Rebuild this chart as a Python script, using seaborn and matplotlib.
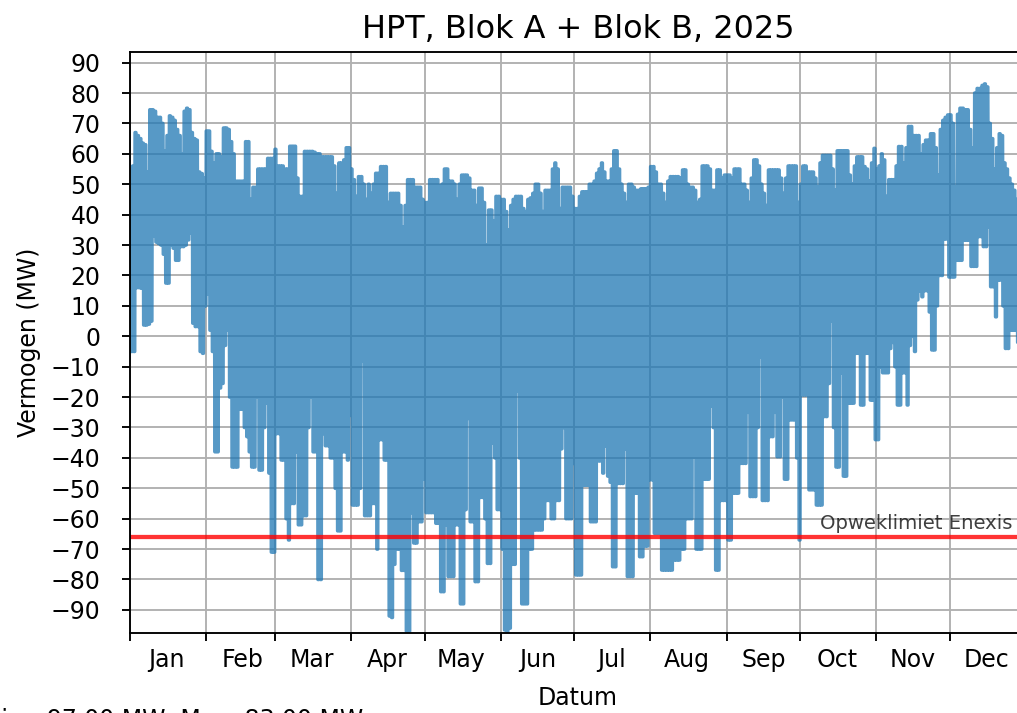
import numpy as np
import pandas as pd
import seaborn as sns
import matplotlib.pyplot as plt
import matplotlib.dates as mdates
from matplotlib.ticker import NullFormatter

# Daily highest and lowest power (MW), one row per month
daily_max = [
    38, 56, 67, 66, 65, 63.5, 63, 54, 74.5, 74.5, 74, 72, 72, 70, 61, 66, 72.5, 72, 71, 68, 66, 60, 74, 75, 74.5, 67, 65, 64.5, 54, 53.5, 52,  # jan
    67.5, 67.5, 60.8, 57, 60, 60, 59, 68.5, 68.5, 68, 64, 60, 51, 51, 51, 51, 64, 64, 45, 49, 49, 55, 55, 55, 55, 58.5, 58.5, 58.5,  # feb
    61.5, 56, 56, 56, 55, 55, 62.5, 62.5, 62.5, 52, 46, 46, 60.8, 60.8, 60.8, 60.8, 60.5, 60, 60, 59, 59, 59, 59, 59, 56, 47, 57, 57, 58, 62, 62,  # mar
    55, 51.5, 46, 52.5, 52.5, 50, 45, 50, 47, 50, 53.6, 53.6, 55.8, 55.8, 55.8, 44, 47, 47, 47, 47, 43, 36, 43, 51.5, 51.5, 51.5, 49, 49, 49, 45,  # apr
    44, 44, 51.5, 51.5, 51.5, 51.5, 49.5, 50, 55, 55, 51, 51, 50, 45, 50, 53, 53, 53, 52, 48, 48, 43, 48.7, 48.7, 44, 30, 41.5, 41.5, 38, 46, 46,  # may
    45, 45, 41, 35, 43, 45, 46, 46, 46, 42, 41, 45, 45.5, 47, 50, 50, 47, 41, 48, 48, 48, 55, 57, 55, 42, 49, 49, 49, 49, 46,  # jun
    42, 42, 46, 47.5, 47.5, 47.5, 50, 50, 51, 53.6, 55, 57, 54, 51, 51, 55, 61, 61, 55, 50, 47, 44, 50, 50, 49, 48, 48, 48.5, 48.5, 48.5, 49,  # jul
    55.8, 55.8, 54, 50, 50, 47, 44, 51, 52.5, 52.5, 52.5, 52.5, 52, 54.7, 54.7, 50, 49, 49, 48, 44, 45, 56, 56, 56, 55, 48, 48, 54.7, 54.7, 52, 53,  # aug
    53, 53, 52, 55, 55, 55, 50, 50, 48, 44, 52, 58, 58, 56, 50, 47, 43, 54.7, 54.7, 54.7, 54.7, 54.7, 52, 47, 52, 56, 56, 56, 56, 44,  # sep
    50, 56, 56, 54, 54, 54, 52, 49, 57, 59.5, 59.5, 59.5, 59.5, 55, 48, 61, 61, 61, 61, 61, 53, 50, 56, 59, 59, 59, 55.8, 55, 51, 57, 61.8,  # oct
    55, 56, 60, 58, 46, 51.5, 51.5, 51.5, 56, 62.4, 62.4, 57, 62, 69, 69, 66, 66, 66, 60, 63, 64.5, 64.5, 66.6, 66.6, 62, 53, 68, 71, 72, 72.8,  # nov
    72.8, 70, 49, 73, 75, 75, 74.5, 74.5, 68, 62, 80, 81.5, 81.5, 82.5, 83, 82, 70, 65, 55, 62, 66.6, 66, 57, 55, 52, 50, 48, 45, 40, 32, 30,  # dec
]
daily_min = [
    -5, -5, 16, 16, 15.8, 3.7, 3.7, 4, 5, 33, 31, 30.5, 30, 27, 17.5, 17.5, 30, 29, 25, 25, 29.5, 29.5, 30, 31.7, 34, 4.3, 3.2, 3.2, -5, -5.6, 10,  # jan
    14, 2, -5, -38, -38, -17, -15.5, -3, 2, -20, -43, -43, -43, -24, -24, -30, -33, -38, -43, -43, -20, -44, -44, -30, -22, -45, -71, -71,  # feb
    -32, -32, -40.7, -40.7, -60, -67, -55, -55, -38, -62, -62, -59, -59, -30, -20, -38, -38, -80, -80, -32, -36, -36, -40, -40, -50, -64, -64, -38, -38, -40.7, -26,  # mar
    -55.5, -55.5, -55.5, -50, -8, -59, -59, -59, -55, -55, -70, -34, -34, -40.7, -40.7, -92, -92.5, -75, -70, -70, -77, -77, -97, -97, -58, -68, -68, -61, -61, -47,  # apr
    -58, -58, -58, -58, -61.5, -61.5, -84, -84, -62, -79, -79, -79, -62, -62, -88, -88, -57, -27, -61, -61, -80.7, -80.7, -53, -53, -60, -74.7, -74.7, -35, -40, -57, -57,  # may
    -70, -96.6, -97, -96, -75, -75, -18, -40, -88, -88, -88, -70, -70, -63.7, -63.7, -63.7, -63.7, -60, -54, -54, -60, -60, -54, -54, -37, -30, -60, -60, -60, -41.8,  # jun
    -78.5, -78.5, -78.5, -49, -49, -49, -61, -61, -61, -41, -41, -45, -36, -46, -48, -75.8, -75.8, -48.4, -48.4, -48.4, -37, -79, -79, -79, -51.6, -51.6, -72.5, -72.5, -69, -69, -47.2,  # jul
    -47.2, -64.8, -64.8, -64.8, -76.9, -76.9, -76.9, -76.9, -76.9, -73.6, -73.6, -73.6, -70, -70, -60, -60, -60, -39.6, -70, -70, -70, -47, -47, -47, -23, -30, -76.9, -76.9, -54, -54, -54,  # aug
    -67, -67, -51.6, -51.6, -51.6, -41.8, -41.8, -41.8, -25, -52.7, -52.7, -52.7, -30, -6.7, -54, -54, -54, -33, -33, -25, -39.6, -39.6, -20, -47, -47, -27.5, -27.5, -27.5, -40, -67,  # sep
    -19.3, -19.3, -19.3, -50.5, -50.5, -50.5, -55.5, -55.5, -55.5, -26.4, -26.4, -15.5, 5, -30, -43, -43, -12, -46, -46, -22, -22, -22, -5.6, -5.6, -22.6, -22.6, -5.6, -5.6, -21, -21, -34,  # oct
    -34, -10, -12, -12, -12, -4, -2, -10, -22.6, -22.6, -12, -12, -22.6, -3, 0, -5, 12, 15, 13, 15, 15, 8, -4.5, -4.5, 10, 20, 20, 32, 32, 19.5,  # nov
    19.5, 19.5, 25, 25, 25, 31.6, 31.6, 31.6, 23, 23, 23, 32.8, 32.8, 29.5, 29.5, 36, 16.3, 16.3, 6.4, 18.5, 18.5, 10, -4, -4, 2, 2, 2, -2, -2, 0, -3,  # dec
]

limit_mw = -66
limit_label = 'Opweklimiet Enexis'
title = 'HPT, Blok A + Blok B, 2025'

# Build the series: the day's peak held through the morning, the dip through the evening
days = pd.date_range('2025-01-01', periods=len(daily_max), freq='D')
parts = []
for hour, values in [(2, daily_max), (10, daily_max), (14, daily_min), (22, daily_min)]:
    parts.append(pd.DataFrame({'Datum': days + pd.Timedelta(hours=hour), 'Vermogen': values}))
df = pd.concat(parts).sort_values('Datum').reset_index(drop=True)

dpi = 170
fig = plt.figure(figsize=(1017/dpi, 713/dpi), dpi=dpi)
ax = fig.add_axes([0.1278, 0.1122, 0.8811, 0.8153])

sns.lineplot(data=df, x='Datum', y='Vermogen', ax=ax, estimator=None,
             color='#1f77b4', alpha=0.75, linewidth=1.5)
ax.axhline(limit_mw, color='red', alpha=0.8, linewidth=1.8)
ax.text(pd.Timestamp('2025-10-09'), limit_mw + 2.7, limit_label,
        fontsize=8.3, color='black', alpha=0.75, va='baseline')

ax.set_xlim(pd.Timestamp('2025-01-01'), pd.Timestamp('2026-01-01'))
ax.set_ylim(-97.6, 93.6)
ax.set_yticks(range(-90, 91, 10))

# month boundaries as grid, names in the middle of the month
ax.xaxis.set_major_locator(mdates.MonthLocator())
ax.xaxis.set_major_formatter(NullFormatter())
ax.xaxis.set_minor_locator(mdates.MonthLocator(bymonthday=16))
ax.xaxis.set_minor_formatter(mdates.DateFormatter('%b'))
ax.tick_params(axis='x', which='minor', length=0, pad=6.4)
for tick in ax.xaxis.get_minor_ticks():
    tick.label1.set_horizontalalignment('center')
ax.tick_params(axis='y', pad=9)

ax.grid(True)
ax.set_title(title, fontsize=13.5)
ax.set_xlabel('Datum', labelpad=6)
ax.set_ylabel('Vermogen (MW)')

fig.text(-19/1017, 1 - 708/713,
         f'Min: {min(daily_min):.2f} MW, Max: {max(daily_max):.2f} MW',
         va='top', fontsize=10)

fig.savefig('out.png', dpi=dpi)
